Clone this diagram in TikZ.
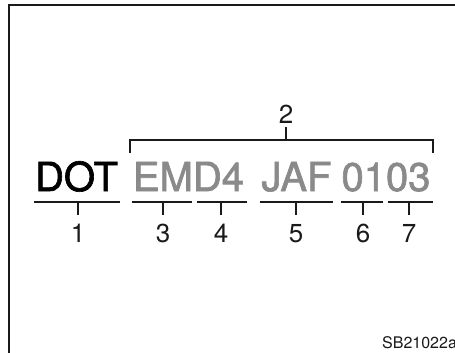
\documentclass[tikz,border=0pt]{standalone}
\usepackage{fontspec}
\setmainfont{TeX Gyre Heros}
\newfontfamily\heavyfont[FakeBold=1.6]{TeX Gyre Heros}
\definecolor{codegray}{HTML}{8A8A8A}
\definecolor{ink}{HTML}{1A1A1A}
\begin{document}
\begin{tikzpicture}[x=1pt,y=-1pt,
  rule/.style={line width=1.8pt,draw=ink},
  big/.style={inner sep=0pt,anchor=base,font=\heavyfont\fontsize{40}{48}\selectfont},
  num/.style={inner sep=0pt,anchor=base,font=\fontsize{26}{30}\selectfont,text=ink}]
\useasboundingbox (0,0) rectangle (455,353);
\fill[white] (0,0) rectangle (455,353);
% frame
\coordinate (fbl) at (9,354);
\coordinate (ftl) at (9,5);
\coordinate (ftr) at (456,5);
\draw[line width=2pt,ink] (fbl) -- (ftl) -- (ftr);
% code text
\node[big,text=black] (dot) at (76.5,191) {DOT};
\node[big,text=codegray] (emd) at (188.5,191) {EMD4};
\node[big,text=codegray] (jaf) at (296.5,191) {JAF};
\node[big,text=codegray] (date) at (386,191) {0103};
% bracket 2
\coordinate (bl) at (130,153);
\coordinate (blt) at (130,140);
\coordinate (brt) at (433,140);
\coordinate (br) at (433,153);
\coordinate (bc) at (286,140);
\coordinate (bct) at (286,127);
\draw[rule] (bl) -- (blt) -- (brt) -- (br);
\draw[rule] (bc) -- (bct);
\node[num] (n2) at (286,123) {2};
% underlines and ticks
\foreach \nm/\a/\b/\t in {1/34/120/78, 3/132/192/163, 4/197/247/221, 5/260/333/296, 6/341/383/363, 7/388/433/409}{
  \coordinate (ul\nm) at (\a,202);
  \coordinate (ur\nm) at (\b,202);
  \coordinate (ut\nm) at (\t,202);
  \coordinate (ub\nm) at (\t,215);
  \draw[rule] (ul\nm) -- (ur\nm);
  \draw[rule] (ut\nm) -- (ub\nm);
  \node[num] (n\nm) at (\t,242) {\nm};
}
% reference code
\node[inner sep=0pt,anchor=base west,font=\fontsize{16}{18}\selectfont,text=ink] (ref) at (382,348) {SB21022a};
\end{tikzpicture}
\end{document}
